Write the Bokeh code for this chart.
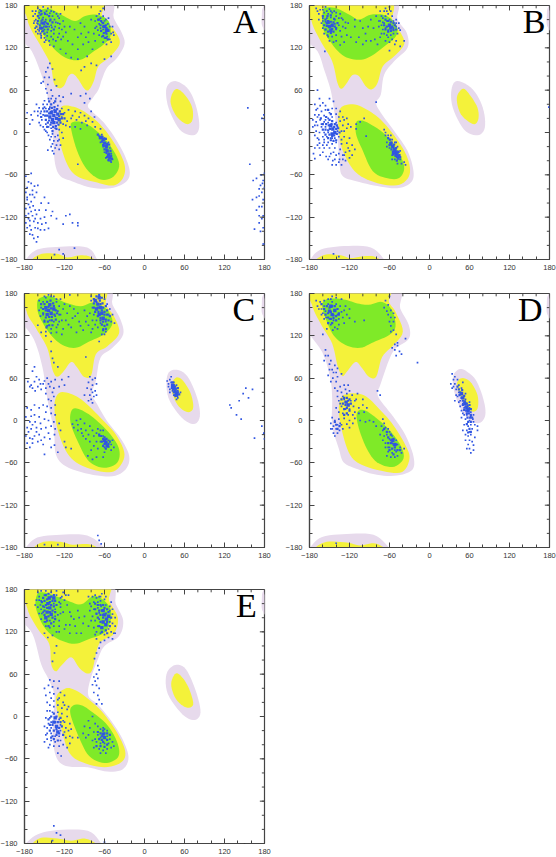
from bokeh.plotting import figure
from bokeh.layouts import column, row
from bokeh.models import FixedTicker, Label
from bokeh.embed import file_html
from bokeh.resources import INLINE

tick_vals = [-180, -120, -60, 0, 60, 120, 180]
minor_vals = list(range(-180, 181, 20))
panel_names = ["A", "B", "C", "D", "E"]

# allowed-region contours, degrees (phi, psi); 190 = runs off the frame
lilac_A = [(-190,190),(-190,141),(-169,115),(-154,80),(-146,54),(-141,25),(-137,-12),(-134,-45),(-126,-62),(-109,-69),(-81,-78),(-51,-79),(-29,-71),(-22,-57),(-29,-34),(-44,-8),(-61,14),(-79,30),(-85,38),(-79,47),(-69,61),(-64,75),(-56,92),(-41,106),(-30,125),(-34,141),(-46,162),(-59,190)]
yellow_up_A = [(-176,190),(-176,162),(-169,144),(-154,120),(-141,96),(-136,70),(-129,63),(-121,66),(-114,80),(-107,83),(-99,75),(-91,63),(-84,60),(-76,73),(-69,94),(-51,108),(-37,127),(-46,146),(-64,165),(-66,190)]
green_up_A = [(-160,172),(-159,153),(-149,135),(-134,117),(-116,105),(-96,103),(-76,115),(-61,125),(-51,137),(-54,158),(-71,167),(-89,165),(-104,158),(-121,165),(-141,175),(-156,174)]
yellow_lo_A = [(-124,37),(-129,21),(-127,-12),(-116,-45),(-101,-62),(-71,-71),(-46,-75),(-32,-64),(-30,-45),(-44,-17),(-66,11),(-91,30),(-109,37)]
green_lo_A = [(-109,14),(-109,0),(-99,-31),(-84,-55),(-64,-67),(-46,-62),(-38,-45),(-49,-22),(-69,0),(-91,14)]
lilac_lh_A = [(46,73),(33,63),(36,35),(53,4),(73,-4),(82,7),(78,35),(66,61)]
yellow_lh_A = [(46,61),(39,44),(48,23),(63,12),(72,18),(71,37),(58,56)]
lilac_bot_A = [(-182,-190),(-178,-180),(-161,-166),(-126,-162),(-86,-163),(-71,-180),(-68,-190)]
yellow_bot_A = [(-172,-190),(-169,-180),(-154,-172),(-131,-172),(-116,-177),(-96,-174),(-80,-177),(-71,-190)]

lilac_B = [(-190,190),(-190,139),(-168,115),(-158,89),(-148,59),(-143,30),(-138,-3),(-135,-45),(-130,-62),(-110,-69),(-78,-76),(-48,-79),(-28,-71),(-24,-55),(-33,-26),(-53,2),(-73,28),(-80,42),(-73,54),(-68,82),(-53,101),(-33,120),(-34,141),(-48,160),(-58,190)]
yellow_up_B = [(-177,190),(-177,158),(-163,129),(-146,101),(-138,70),(-132,62),(-124,70),(-116,81),(-106,80),(-96,66),(-87,61),(-78,70),(-70,94),(-53,108),(-38,125),(-43,141),(-56,158),(-63,190)]
green_up_B = [(-160,172),(-160,148),(-146,125),(-128,108),(-106,103),(-88,108),(-68,122),(-50,137),(-50,153),(-66,166),(-88,167),(-106,160),(-120,167),(-140,176),(-155,177)]
yellow_lo_B = [(-133,35),(-137,16),(-133,-17),(-120,-45),(-103,-62),(-73,-73),(-45,-74),(-30,-60),(-33,-36),(-50,-8),(-73,18),(-95,33),(-115,40)]
green_lo_B = [(-110,14),(-110,-3),(-100,-26),(-85,-55),(-63,-65),(-45,-64),(-38,-48),(-50,-22),(-70,0),(-93,14),(-104,17)]
lilac_lh_B = [(42,73),(33,61),(35,35),(52,4),(72,-4),(83,7),(80,35),(65,61)]
yellow_lh_B = [(50,62),(41,49),(47,26),(65,12),(73,18),(72,35),(60,54)]
lilac_bot_B = [(-182,-190),(-179,-180),(-163,-166),(-128,-161),(-88,-163),(-68,-180),(-65,-190)]
yellow_bot_B = [(-172,-190),(-170,-180),(-155,-173),(-133,-174),(-118,-178),(-95,-175),(-80,-177),(-70,-190)]

lilac_C = [(-190,190),(-190,150),(-166,115),(-153,75),(-146,32),(-136,-15),(-133,-48),(-118,-65),(-83,-76),(-48,-79),(-28,-69),(-23,-50),(-36,-25),(-56,-1),(-71,23),(-79,38),(-73,56),(-66,89),(-48,103),(-32,122),(-36,143),(-48,164),(-61,190)]
yellow_up_C = [(-177,190),(-177,155),(-163,131),(-146,103),(-138,72),(-131,62),(-121,70),(-110,83),(-101,75),(-91,62),(-80,64),(-73,94),(-56,105),(-38,124),(-46,148),(-58,164),(-66,190)]
green_up_C = [(-161,167),(-158,148),(-141,122),(-123,107),(-103,103),(-83,112),(-61,122),(-48,138),(-56,157),(-76,167),(-96,162),(-118,167),(-141,176),(-156,174)]
yellow_lo_C = [(-128,39),(-135,23),(-131,-10),(-118,-43),(-98,-62),(-61,-73),(-41,-69),(-30,-48),(-43,-20),(-66,4),(-91,27),(-111,38)]
green_lo_C = [(-108,16),(-111,-3),(-98,-34),(-83,-58),(-61,-67),(-41,-60),(-38,-41),(-51,-20),(-73,1),(-93,14)]
lilac_lh_C = [(46,72),(34,63),(36,32),(56,4),(74,-5),(83,6),(79,32),(64,63)]
yellow_lh_C = [(46,60),(40,46),(49,23),(64,12),(73,18),(69,39),(56,58)]
lilac_bot_C = [(-182,-190),(-178,-180),(-161,-166),(-126,-162),(-86,-163),(-61,-180),(-58,-190)]
yellow_bot_C = [(-169,-190),(-166,-180),(-151,-172),(-126,-172),(-108,-176),(-86,-175),(-71,-180),(-68,-190)]

lilac_D = [(-190,190),(-190,139),(-161,97),(-149,60),(-146,31),(-146,-7),(-136,-40),(-129,-59),(-111,-68),(-79,-77),(-49,-78),(-26,-70),(-24,-51),(-36,-21),(-54,5),(-74,29),(-78,40),(-74,50),(-61,85),(-51,102),(-31,116),(-31,135),(-44,159),(-54,190)]
yellow_up_D = [(-176,190),(-176,163),(-162,135),(-146,109),(-138,78),(-131,63),(-124,69),(-111,83),(-101,74),(-91,62),(-80,62),(-71,90),(-54,107),(-40,126),(-51,154),(-61,168),(-66,190)]
green_up_D = [(-161,163),(-156,145),(-144,121),(-126,107),(-104,103),(-84,111),(-61,121),(-51,133),(-56,156),(-71,168),(-91,164),(-108,166),(-126,171),(-144,173),(-156,171)]
yellow_lo_D = [(-129,36),(-136,17),(-131,-16),(-119,-49),(-101,-63),(-69,-72),(-41,-73),(-30,-54),(-36,-35),(-54,-7),(-74,15),(-99,36)]
green_lo_D = [(-109,10),(-106,-11),(-94,-40),(-79,-59),(-56,-66),(-40,-56),(-41,-40),(-56,-18),(-79,3),(-99,15)]
lilac_lh_D = [(46,73),(36,64),(37,41),(51,10),(71,-4),(83,5),(82,26),(71,55),(58,68)]
yellow_lh_D = [(48,60),(41,50),(51,26),(63,13),(72,17),(72,36),(61,55)]
lilac_bot_D = [(-182,-190),(-179,-180),(-161,-165),(-124,-161),(-84,-162),(-61,-180),(-58,-190)]
yellow_bot_D = [(-173,-190),(-171,-180),(-154,-172),(-124,-173),(-104,-177),(-84,-174),(-69,-180),(-66,-190)]

lilac_E = [(-190,190),(-190,145),(-168,117),(-155,74),(-143,51),(-135,27),(-138,-20),(-133,-56),(-118,-70),(-85,-72),(-56,-78),(-33,-75),(-24,-58),(-33,-32),(-50,-6),(-70,17),(-84,29),(-82,50),(-70,81),(-60,100),(-38,114),(-32,136),(-43,159),(-58,190)]
yellow_up_E = [(-176,190),(-176,154),(-160,124),(-143,103),(-140,74),(-133,64),(-125,72),(-110,84),(-98,69),(-86,61),(-78,67),(-68,103),(-46,117),(-40,140),(-53,164),(-60,190)]
green_up_E = [(-161,173),(-163,154),(-150,126),(-130,110),(-105,103),(-83,110),(-60,119),(-50,140),(-55,159),(-75,171),(-95,159),(-115,164),(-140,173),(-153,176)]
yellow_lo_E = [(-120,39),(-133,25),(-125,-16),(-113,-51),(-93,-65),(-60,-72),(-35,-65),(-29,-49),(-43,-20),(-65,8),(-90,29),(-108,39)]
green_lo_E = [(-108,15),(-111,3),(-98,-30),(-83,-56),(-60,-66),(-40,-58),(-40,-39),(-55,-13),(-78,6),(-95,16)]
lilac_lh_E = [(46,73),(33,60),(35,32),(57,3),(75,-5),(84,6),(77,36),(62,67)]
yellow_lh_E = [(47,61),(40,46),(47,25),(62,13),(73,17),(67,39),(57,55)]
lilac_bot_E = [(-182,-190),(-178,-180),(-160,-167),(-130,-161),(-85,-162),(-65,-180),(-62,-190)]
yellow_bot_E = [(-171,-190),(-168,-180),(-155,-172),(-130,-173),(-110,-176),(-90,-173),(-73,-180),(-70,-190)]

# sliver of allowed region at the top right corner (shared shape)
lilac_corner = [(190,190),(178,178),(176,165),(177,150),(190,138)]

core_A = [(-140,28),(-136,24),(-132,20),(-138,18),(-134,30),(-130,26),(-142,22),(-128,18),(-136,14),(-62,-10),(-60,-15),(-57,-20),(-56,-26),(-54,-32),(-65,-7),(-52,-36),(-152,155),(-156,148),(-60,150),(-57,145)]
dense_A = [(-146,30),(-143,33),(-139,35),(-135,36),(-131,33),(-127,30),(-125,26),(-124,20),(-126,14),(-129,11),(-133,9),(-137,8),(-141,11),(-145,14),(-148,18),(-149,24),(-146,24),(-143,27),(-139,30),(-135,32),(-143,17),(-140,14),(-131,14),(-128,23),(-150,30),(-152,34),(-122,26),(-120,20),(-132,5),(-138,2),(-140,40),(-134,44),(-143,44),(-155,22),(-146,8),(-70,-3),(-67,-8),(-63,-6),(-64,-13),(-58,-9),(-62,-18),(-59,-19),(-56,-16),(-53,-17),(-60,-24),(-57,-24),(-51,-26),(-57,-29),(-53,-30),(-50,-33),(-56,-35),(-49,-37),(-54,-39),(-51,-40),(-160,165),(-156,167),(-153,160),(-160,158),(-157,152),(-153,148),(-149,157),(-145,154),(-148,150),(-152,144),(-156,140),(-150,140),(-145,146),(-141,160),(-138,156),(-136,146),(-162,150),(-143,165),(-155,172),(-149,168),(-68,160),(-65,158),(-62,155),(-58,152),(-66,152),(-62,150),(-57,148),(-65,144),(-61,141),(-57,140),(-54,144),(-62,137),(-58,134),(-55,132)]
pts_A = [(-168,172),(-160,176),(-152,178),(-145,176),(-140,172),(-164,168),(-158,170),(-150,170),(-146,167),(-138,165),(-132,168),(-128,162),(-163,160),(-158,162),(-152,163),(-148,160),(-142,158),(-135,160),(-130,155),(-122,158),(-166,155),(-160,154),(-155,158),(-150,153),(-146,150),(-140,152),(-134,150),(-128,148),(-120,150),(-164,148),(-160,146),(-154,143),(-150,146),(-146,142),(-140,144),(-136,140),(-128,140),(-118,142),(-160,140),(-155,137),(-150,134),(-146,137),(-140,136),(-133,130),(-125,132),(-150,128),(-142,124),(-136,122),(-126,118),(-118,112),(-110,106),(-100,104),(-112,150),(-105,146),(-96,155),(-100,135),(-90,150),(-92,125),(-84,142),(-80,160),(-84,128),(-78,118),(-86,108),(-80,98),(-72,95),(-90,93),(-95,88),(-72,165),(-68,168),(-66,172),(-62,176),(-74,158),(-70,160),(-66,162),(-62,165),(-58,160),(-54,162),(-72,150),(-68,154),(-64,156),(-60,158),(-55,154),(-52,150),(-70,145),(-66,148),(-62,146),(-58,142),(-54,146),(-50,140),(-46,138),(-68,138),(-64,136),(-60,134),(-56,136),(-52,132),(-62,128),(-57,125),(-50,108),(-60,104),(-142,98),(-138,90),(-148,86),(-143,78),(-152,72),(-145,68),(-135,75),(-140,60),(-148,62),(-155,70),(-132,66),(-138,52),(-144,48),(-150,45),(-128,52),(-122,50),(-110,55),(-96,52),(-88,55),(-82,48),(-90,42),(-80,30),(-75,22),(-162,40),(-158,35),(-165,30),(-170,25),(-168,18),(-172,12),(-176,28),(-155,30),(-160,24),(-152,25),(-154,18),(-158,14),(-150,36),(-146,40),(-142,36),(-136,42),(-130,38),(-124,34),(-120,28),(-114,32),(-104,30),(-96,28),(-90,24),(-84,20),(-78,15),(-110,20),(-102,18),(-94,14),(-86,10),(-74,8),(-66,5),(-124,22),(-122,12),(-118,10),(-112,8),(-104,8),(-96,5),(-148,12),(-144,8),(-150,4),(-140,6),(-134,6),(-128,4),(-146,0),(-138,-2),(-130,-4),(-124,0),(-142,-10),(-136,-12),(-130,-12),(-140,-20),(-134,-22),(-128,-24),(-136,-30),(-145,-25),(-68,-5),(-64,-3),(-60,-8),(-66,-14),(-54,-14),(-62,-20),(-52,-22),(-60,-28),(-50,-30),(-58,-36),(-54,-40),(-48,-38),(-50,-42),(-100,-45),(-178,-62),(-170,-58),(-176,-78),(-170,-72),(-165,-76),(-160,-75),(-178,-85),(-172,-88),(-168,-82),(-162,-85),(-176,-95),(-170,-98),(-165,-92),(-150,-92),(-144,-100),(-178,-108),(-172,-106),(-167,-104),(-158,-110),(-148,-110),(-138,-112),(-178,-118),(-174,-115),(-168,-118),(-162,-116),(-150,-120),(-140,-118),(-118,-118),(-112,-116),(-178,-128),(-172,-125),(-166,-126),(-160,-128),(-132,-122),(-122,-130),(-108,-128),(-100,-128),(-100,-132),(-176,-135),(-170,-138),(-164,-135),(-156,-138),(-150,-138),(-144,-136),(-168,-145),(-160,-148),(-162,-155),(-128,-166),(-105,-164),(-135,-173),(-122,-172),(155,35),(179,25),(176,20),(180,18),(158,-45),(180,-58),(175,-60),(168,-65),(178,-68),(163,-68),(174,-75),(180,-78),(176,-85),(172,-90),(178,-95),(162,-95),(172,-105),(178,-118),(176,-122),(168,-110),(165,-137),(174,-140),(178,-158),(180,-158)]
extra_A = [(-167,165),(-163,172),(-157,174),(-154,168),(-147,172),(-142,169),(-136,171),(-130,165),(-126,168),(-165,158),(-161,155),(-155,155),(-151,150),(-147,155),(-143,150),(-139,149),(-133,156),(-127,154),(-124,146),(-163,143),(-158,144),(-155,134),(-148,131),(-143,130),(-137,132),(-130,135),(-122,136),(-115,130),(-108,125),(-100,118),(-95,140),(-88,135),(-76,140),(-74,130),(-70,160),(-74,148),(-48,150),(-47,142),(-50,128),(-145,92),(-150,78),(-146,56),(-140,48),(-133,48),(-126,44),(-160,30),(-156,27),(-152,40),(-148,34),(-156,10),(-152,8),(-148,2),(-144,-4),(-140,-6),(-134,-6),(-128,-10),(-122,-8),(-138,-16),(-132,-18),(-138,-26),(-126,-18),(-116,16),(-108,24),(-98,22),(-88,16),(-174,-70),(-168,-88),(-174,-102),(-170,-112),(-164,-110),(-174,-122),(-164,-122),(-156,-122),(-172,-132),(-160,-136),(-154,-130),(-172,-144),(-166,-150),(-176,-92),(-155,-100),(-148,-128),(177,-72),(172,-80),(168,-92),(176,-105),(172,-118),(178,-135),(172,-128)]
core_B = [(-152,156),(-150,150),(-146,152),(-148,145),(-55,-20),(-52,-25),(-50,-30),(-48,-34),(-58,-16),(-54,-28),(-145,5),(-142,0),(-148,10),(-146,-2),(-60,152),(-58,148)]
dense_B = [(-160,165),(-156,160),(-152,158),(-148,157),(-144,156),(-158,152),(-154,151),(-146,147),(-142,150),(-156,146),(-152,143),(-148,141),(-144,143),(-140,148),(-154,155),(-143,161),(-148,166),(-153,165),(-138,155),(-66,160),(-62,158),(-58,157),(-54,155),(-68,152),(-64,150),(-56,150),(-52,152),(-66,146),(-62,143),(-58,144),(-54,145),(-50,146),(-62,-8),(-59,-10),(-57,-14),(-60,-18),(-56,-19),(-53,-17),(-57,-24),(-53,-23),(-50,-22),(-54,-31),(-50,-27),(-47,-27),(-51,-33),(-48,-30),(-45,-32),(-47,-37),(-44,-35),(-49,-40),(-155,22),(-150,18),(-146,16),(-142,12),(-155,12),(-151,10),(-147,12),(-143,8),(-139,10),(-156,4),(-152,3),(-149,5),(-140,5),(-137,6),(-150,-3),(-146,-5),(-143,-4),(-139,-2),(-135,0),(-148,-11),(-144,-12),(-140,-11),(-152,-8),(-156,-3),(-160,4),(-160,12),(-163,20),(-148,26),(-152,32)]
pts_B = [(-170,176),(-164,174),(-156,178),(-150,175),(-143,172),(-166,168),(-158,170),(-152,168),(-146,170),(-140,165),(-134,168),(-160,162),(-154,162),(-148,163),(-142,160),(-136,162),(-130,160),(-162,155),(-156,157),(-142,154),(-136,152),(-130,150),(-160,148),(-156,146),(-140,146),(-134,144),(-126,148),(-158,140),(-153,138),(-146,136),(-140,138),(-132,136),(-124,138),(-150,130),(-144,128),(-157,115),(-122,155),(-112,160),(-112,150),(-104,158),(-100,148),(-106,135),(-96,140),(-92,150),(-88,160),(-84,148),(-82,132),(-78,125),(-88,130),(-72,165),(-68,172),(-66,176),(-60,178),(-74,158),(-70,162),(-66,165),(-62,168),(-56,165),(-76,150),(-72,152),(-68,155),(-64,158),(-60,160),(-54,158),(-50,155),(-70,146),(-66,148),(-62,145),(-54,148),(-50,150),(-46,148),(-68,140),(-64,138),(-58,138),(-54,140),(-48,140),(-74,135),(-66,130),(-60,128),(-52,125),(-44,122),(-60,116),(-80,43),(-168,60),(-165,48),(-172,40),(-160,42),(-150,48),(-168,34),(-162,30),(-156,32),(-150,28),(-146,34),(-172,25),(-166,25),(-158,24),(-152,20),(-146,22),(-140,26),(-134,30),(-175,18),(-170,15),(-164,18),(-158,15),(-152,14),(-140,14),(-134,16),(-128,18),(-175,8),(-168,10),(-162,8),(-156,8),(-150,6),(-138,8),(-130,10),(-122,12),(-170,2),(-165,0),(-158,0),(-152,0),(-138,2),(-132,2),(-118,8),(-110,5),(-168,-8),(-160,-6),(-154,-6),(-148,-8),(-142,-8),(-136,-6),(-128,-6),(-165,-15),(-158,-14),(-152,-14),(-146,-16),(-140,-14),(-132,-16),(-124,-15),(-116,-18),(-172,-22),(-165,-22),(-158,-22),(-150,-22),(-142,-22),(-134,-24),(-122,-22),(-112,-24),(-174,-30),(-160,-28),(-155,-34),(-148,-30),(-140,-32),(-130,-32),(-120,-26),(-172,-37),(-152,-38),(-145,-40),(-135,-38),(-126,-40),(-140,-46),(-132,-46),(-130,-38),(-98,20),(-104,15),(-110,12),(-95,-5),(-68,4),(-66,0),(-62,-4),(-60,-10),(-64,-14),(-56,-10),(-52,-14),(-60,-22),(-48,-20),(-56,-32),(-46,-28),(-52,-38),(-44,-38),(-42,-44),(-38,-42),(-36,-46),(179,36),(-144,-172),(-136,-176)]
extra_B = [(-168,172),(-160,174),(-154,172),(-148,172),(-140,170),(-132,162),(-126,156),(-160,158),(-166,160),(-152,136),(-140,130),(-134,124),(-128,128),(-118,135),(-110,128),(-100,125),(-95,130),(-76,158),(-80,165),(-74,172),(-64,172),(-58,172),(-70,156),(-50,160),(-46,155),(-44,145),(-72,140),(-62,135),(-56,132),(-50,130),(-38,130),(-170,32),(-164,38),(-156,38),(-144,44),(-140,34),(-136,22),(-130,22),(-124,20),(-172,10),(-168,22),(-162,12),(-156,18),(-128,2),(-124,6),(-172,-4),(-166,-10),(-158,-10),(-146,-8),(-132,-10),(-120,-8),(-168,-18),(-160,-18),(-154,-18),(-144,-28),(-136,-30),(-126,-28),(-164,-32),(-150,-34),(-142,-38),(-128,-32),(-120,-36),(-116,-32),(-146,-46),(-136,-42),(-66,-4),(-58,-4),(-64,-20),(-50,-14),(-44,-26),(-56,-38),(-48,-44)]
core_C = [(-148,160),(-144,156),(-140,152),(-146,150),(-142,164),(-136,158),(-74,170),(-70,165),(-66,160),(-72,158),(-64,152),(-68,150),(-62,145),(-68,174),(44,46),(46,42),(48,38),(42,50),(-58,-32),(-56,-36),(-60,-28)]
dense_C = [(-155,165),(-150,165),(-146,168),(-141,170),(-137,166),(-152,158),(-148,156),(-144,161),(-140,159),(-136,162),(-133,156),(-152,152),(-148,146),(-143,147),(-139,147),(-135,150),(-131,152),(-150,140),(-145,140),(-139,142),(-147,132),(-143,135),(-138,135),(-133,143),(-76,172),(-72,176),(-68,178),(-64,174),(-76,166),(-72,168),(-67,170),(-63,166),(-76,160),(-70,160),(-66,165),(-62,160),(-58,162),(-74,154),(-69,154),(-64,156),(-60,154),(-56,156),(-70,148),(-66,145),(-60,150),(-56,150),(-52,148),(-66,142),(-62,140),(-58,143),(-54,142),(-64,136),(-60,134),(-56,136),(-62,128),(-58,130),(42,54),(44,50),(46,48),(41,46),(43,44),(47,45),(50,46),(44,40),(47,40),(50,40),(46,36),(49,35),(52,37),(-68,-20),(-65,-22),(-62,-26),(-60,-24),(-57,-26),(-64,-30),(-60,-33),(-57,-30),(-54,-33),(-62,-36),(-58,-40),(-54,-37),(-52,-30)]
pts_C = [(-150,176),(-144,178),(-136,176),(-126,172),(-112,178),(-152,168),(-132,168),(-128,162),(-120,165),(-155,160),(-130,155),(-122,158),(-112,162),(-152,150),(-134,148),(-126,150),(-116,152),(-106,158),(-100,152),(-90,156),(-150,142),(-142,142),(-136,140),(-128,140),(-118,142),(-108,145),(-98,140),(-86,148),(-146,134),(-140,130),(-132,132),(-122,130),(-110,132),(-102,125),(-92,128),(-160,135),(-155,125),(-148,120),(-140,112),(-84,135),(-80,125),(-78,160),(-76,150),(-78,142),(-72,142),(-66,138),(-58,140),(-54,150),(-70,132),(-62,130),(-58,126),(-64,122),(-45,138),(-68,112),(-88,90),(-140,98),(-138,88),(-136,82),(-130,76),(-165,76),(-168,70),(-162,62),(-175,55),(-170,50),(-165,55),(-158,58),(-152,52),(-146,60),(-140,55),(-134,58),(-124,58),(-114,62),(-168,46),(-160,48),(-155,44),(-148,46),(-142,48),(-136,46),(-128,48),(-120,50),(-82,62),(-78,58),(-74,60),(-84,54),(-78,50),(-72,52),(-86,46),(-80,44),(-74,42),(-82,36),(-76,34),(-90,36),(-84,28),(-78,25),(-176,18),(-170,15),(-165,22),(-158,18),(-152,22),(-146,20),(-140,18),(-134,22),(-148,12),(-140,10),(-134,8),(-165,8),(-178,5),(-172,-2),(-164,-2),(-158,5),(-150,2),(-144,0),(-136,-2),(-128,-4),(-176,-10),(-170,-12),(-162,-10),(-155,-12),(-148,-10),(-140,-8),(-134,-12),(-126,-14),(-178,-22),(-172,-25),(-165,-22),(-158,-20),(-150,-24),(-142,-26),(-135,-20),(-176,-32),(-168,-32),(-160,-30),(-152,-34),(-135,-35),(-172,-38),(-150,-48),(-130,-45),(-120,-30),(-118,-38),(-110,-40),(-108,-5),(-102,0),(-106,-10),(-100,-6),(-96,2),(-95,-12),(-90,-4),(-88,-14),(-84,-20),(-92,-22),(-82,-8),(-78,-14),(-76,-22),(-72,-18),(-68,-22),(-66,-30),(-72,-30),(-62,-22),(-60,-38),(-54,-28),(-50,-34),(-50,-42),(-60,-45),(-70,-40),(-80,-42),(-72,-52),(-78,-55),(-85,-50),(-62,-52),(34,56),(38,58),(40,62),(36,52),(40,54),(44,54),(48,50),(38,44),(42,42),(50,42),(46,34),(50,32),(130,18),(128,22),(142,28),(138,8),(145,2),(148,38),(152,46),(156,32),(162,44),(165,-25),(176,-8),(179,-18),(180,-26),(-70,-163),(-68,-170),(-65,-175),(-130,-176),(-150,-176)]
extra_C = [(-158,170),(-148,174),(-140,176),(-132,172),(-158,156),(-156,148),(-128,150),(-124,142),(-130,136),(-148,126),(-140,124),(-132,125),(-124,122),(-114,136),(-104,148),(-96,134),(-88,140),(-82,152),(-80,170),(-80,176),(-60,172),(-56,165),(-52,158),(-48,150),(-50,140),(-60,122),(-74,136),(-78,130),(-172,48),(-164,42),(-156,52),(-150,56),(-144,52),(-138,40),(-148,38),(-144,30),(-140,28),(-136,34),(-78,40),(-72,36),(-80,30),(-170,6),(-168,-6),(-156,-4),(-174,-16),(-162,-16),(-144,-18),(-168,-26),(-155,-28),(-140,-38),(-100,-14),(-94,-18),(-88,-26),(-82,-30),(-76,-36),(-70,-12),(-66,-14),(-62,-14),(-48,-28),(-46,-38),(36,48),(38,40),(54,40),(48,30),(44,36)]
core_D = [(-150,155),(-146,150),(-142,156),(-148,162),(50,32),(53,24),(56,18),(58,14),(48,38),(-55,-28),(-52,-34),(-125,26),(-122,22)]
dense_D = [(-162,165),(-158,158),(-154,162),(-150,160),(-146,162),(-142,162),(-138,158),(-156,150),(-152,152),(-148,154),(-144,149),(-140,148),(-136,152),(-152,146),(-148,144),(-144,145),(-140,142),(-136,150),(-152,138),(-146,138),(42,48),(44,44),(46,40),(49,43),(45,36),(48,32),(52,35),(50,28),(53,27),(56,24),(50,22),(54,20),(57,21),(60,22),(52,15),(55,14),(59,16),(62,16),(56,10),(59,10),(62,8),(57,4),(61,4),(64,4),(58,-2),(62,-2),(56,-5),(60,-12),(58,-17),(62,-16),(-132,30),(-128,32),(-124,32),(-120,30),(-130,24),(-126,22),(-122,28),(-118,24),(-128,16),(-124,18),(-120,14),(-128,8),(-124,10),(-140,-6),(-135,-8),(-138,-12),(-142,-2),(-68,-12),(-64,-16),(-62,-24),(-58,-20),(-58,-28),(-54,-26),(-62,-32),(-58,-32),(-54,-34),(-50,-34),(-60,-42),(-56,-40),(-52,-38),(-48,-42),(-44,-42),(-54,-48)]
pts_D = [(-168,162),(-164,168),(-158,170),(-152,172),(-146,176),(-140,174),(-162,158),(-158,162),(-152,165),(-146,168),(-140,165),(-134,162),(-160,152),(-156,155),(-138,150),(-132,154),(-128,156),(-155,146),(-150,144),(-144,142),(-136,144),(-130,146),(-148,136),(-142,132),(-136,136),(-120,145),(-112,140),(-98,142),(-66,170),(-60,176),(-68,160),(-62,164),(-58,156),(-62,150),(-58,146),(-54,140),(-58,134),(-54,128),(-50,122),(-36,116),(-52,108),(-48,106),(-56,103),(-52,100),(-48,110),(-45,98),(-42,94),(-50,92),(-18,82),(-160,122),(-156,100),(-152,92),(-158,85),(-148,85),(-142,78),(-150,72),(-144,68),(-138,74),(-152,64),(-145,60),(-138,62),(-132,66),(-140,55),(-134,48),(-128,50),(-122,50),(-138,42),(-132,40),(-130,34),(-124,38),(-116,36),(-108,38),(-78,42),(-74,36),(-136,28),(-128,30),(-118,28),(-110,30),(-100,30),(-132,20),(-126,16),(-120,16),(-114,20),(-106,18),(-98,12),(-140,18),(-130,10),(-122,8),(-115,8),(-106,10),(-146,4),(-142,0),(-136,2),(-128,3),(-120,0),(-112,3),(-104,0),(-148,-4),(-144,-8),(-138,-6),(-132,-6),(-124,-5),(-115,-4),(-140,-12),(-135,-14),(-130,-12),(-120,-10),(-144,-18),(-138,-18),(-96,-2),(-90,0),(-84,-2),(-80,-8),(-70,2),(-68,-4),(-66,-10),(-62,-12),(-60,-16),(-64,-20),(-68,-22),(-56,-22),(-60,-26),(-66,-32),(-56,-32),(-50,-28),(-48,-34),(-60,-38),(-62,-44),(-52,-42),(-44,-38),(-38,-40),(-56,-46),(-48,-50),(-52,-52),(34,66),(38,62),(36,58),(42,58),(32,52),(38,52),(44,50),(50,54),(40,44),(44,40),(48,46),(54,38),(42,34),(46,28),(50,24),(54,30),(60,26),(46,20),(52,18),(60,18),(62,12),(50,10),(56,8),(62,6),(66,8),(54,2),(60,0),(65,2),(52,-6),(58,-8),(62,-6),(56,-14),(60,-16),(64,-12),(72,-8),(72,-14),(54,-20),(58,-22),(62,-20),(60,-28),(64,-30),(58,-34),(66,-35),(60,-40),(62,-46),(-140,-174)]
extra_D = [(-170,170),(-166,158),(-162,150),(-158,144),(-154,130),(-145,128),(-138,130),(-128,138),(-124,150),(-126,162),(-120,158),(-132,172),(-148,172),(-64,155),(-60,140),(-54,152),(-52,146),(-58,126),(-156,92),(-150,80),(-146,72),(-140,68),(-148,55),(-142,46),(-126,44),(-120,42),(-112,28),(-138,34),(-134,24),(-126,26),(-112,12),(-100,22),(-94,18),(-136,12),(-146,-12),(-148,-12),(-142,-22),(-134,-4),(-72,-8),(-70,-14),(-74,-20),(-70,-28),(-66,-38),(-62,-38),(-50,-44),(-42,-46),(-58,-52),(-64,-50),(36,48),(34,46),(40,36),(38,28),(44,26),(48,14),(52,8),(48,4),(66,-2),(68,-6),(50,-14),(54,-28),(68,-24),(56,-40),(66,-42)]
core_E = [(-145,160),(-142,154),(-146,148),(-140,145),(-148,140),(-136,168),(-143,168),(-62,150),(-60,144),(-57,138),(-62,134),(-58,130),(-64,126),(-54,142),(-136,-8),(-132,-14),(-134,-2),(-130,-22),(-60,-30),(-62,-25)]
dense_E = [(-152,168),(-148,172),(-144,174),(-140,170),(-136,172),(-154,162),(-150,164),(-146,166),(-142,162),(-138,164),(-134,164),(-152,156),(-148,158),(-144,160),(-140,158),(-136,156),(-132,158),(-150,150),(-146,154),(-142,148),(-138,150),(-134,148),(-150,144),(-144,142),(-138,140),(-134,138),(-146,136),(-140,132),(-144,128),(-74,160),(-70,158),(-66,158),(-62,158),(-74,152),(-68,150),(-64,150),(-60,154),(-56,152),(-72,146),(-66,144),(-62,144),(-58,146),(-54,148),(-50,140),(-70,140),(-66,134),(-62,140),(-56,134),(-52,128),(-68,128),(-64,120),(-58,122),(-56,118),(-144,-4),(-140,0),(-136,4),(-132,0),(-126,-2),(-142,-12),(-138,-12),(-134,-8),(-130,-8),(-126,-8),(-142,-20),(-136,-20),(-132,-18),(-128,-16),(-124,-14),(-138,-28),(-132,-26),(-128,-24),(-122,-26),(-136,-32),(-130,-34),(-140,-30),(-70,-22),(-66,-24),(-62,-20),(-60,-24),(-56,-24),(-68,-32),(-64,-33),(-62,-36),(-56,-33),(-52,-26),(-66,-42),(-60,-43),(-56,-40),(-72,-42),(-64,-28)]
pts_E = [(-155,178),(-148,178),(-140,176),(-132,178),(-122,176),(-158,170),(-150,172),(-132,172),(-124,170),(-114,172),(-162,165),(-155,164),(-136,160),(-128,162),(-120,165),(-160,155),(-155,152),(-150,155),(-134,152),(-126,155),(-116,158),(-158,146),(-152,148),(-134,142),(-126,146),(-112,148),(-155,138),(-150,134),(-142,136),(-136,134),(-128,136),(-106,138),(-98,140),(-148,128),(-142,126),(-136,128),(-128,128),(-118,130),(-104,128),(-92,132),(-150,118),(-145,112),(-138,115),(-132,120),(-112,118),(-95,118),(-132,100),(-135,90),(-138,78),(-78,170),(-74,172),(-68,170),(-64,174),(-82,160),(-76,162),(-70,162),(-66,164),(-60,166),(-82,150),(-76,152),(-70,154),(-65,156),(-58,158),(-52,156),(-78,142),(-72,145),(-68,147),(-52,150),(-48,145),(-74,136),(-68,138),(-52,134),(-48,132),(-44,128),(-70,128),(-54,124),(-50,120),(-72,120),(-66,118),(-60,116),(-54,112),(-46,118),(-72,110),(-66,105),(-68,97),(-72,90),(-75,82),(-70,72),(-68,66),(-72,60),(-76,56),(-70,54),(-74,50),(-78,45),(-72,44),(-68,40),(-76,34),(-70,30),(-68,24),(-72,18),(-64,18),(-142,52),(-136,50),(-128,50),(-144,44),(-138,42),(-130,40),(-142,34),(-136,32),(-126,34),(-120,30),(-140,26),(-136,22),(-130,24),(-122,20),(-142,16),(-136,14),(-130,16),(-124,12),(-116,10),(-142,8),(-138,6),(-130,6),(-124,4),(-116,0),(-142,-2),(-128,-4),(-122,-6),(-112,-10),(-144,-10),(-140,-8),(-126,-12),(-118,-16),(-110,-18),(-146,-16),(-140,-16),(-126,-20),(-120,-22),(-112,-28),(-146,-24),(-140,-24),(-134,-28),(-128,-28),(-118,-30),(-146,-32),(-140,-34),(-134,-36),(-126,-34),(-112,-38),(-142,-40),(-136,-42),(-128,-42),(-130,-52),(-125,-56),(-90,-14),(-84,-6),(-78,0),(-74,-10),(-70,-14),(-66,-18),(-62,-16),(-56,-20),(-92,-24),(-84,-26),(-76,-22),(-70,-26),(-66,-30),(-56,-28),(-52,-32),(-78,-34),(-72,-36),(-66,-38),(-60,-38),(-54,-38),(-48,-36),(-68,-46),(-62,-48),(-56,-46),(-136,-155),(-132,-165),(-126,-168),(-138,-176),(-60,-178)]
extra_E = [(-160,176),(-158,165),(-164,158),(-156,158),(-154,146),(-148,134),(-126,168),(-118,172),(-126,160),(-122,148),(-130,144),(-128,120),(-120,124),(-112,130),(-110,142),(-100,150),(-102,118),(-90,142),(-84,128),(-84,170),(-72,168),(-66,170),(-58,170),(-50,162),(-48,152),(-44,140),(-80,156),(-80,136),(-76,126),(-74,116),(-60,108),(-48,110),(-44,118),(-150,40),(-148,30),(-146,20),(-146,8),(-128,26),(-120,16),(-114,14),(-148,-2),(-150,-14),(-148,-26),(-150,-36),(-144,-44),(-122,-40),(-116,-44),(-120,-8),(-114,-20),(-108,-30),(-100,-30),(-88,-30),(-82,-16),(-76,-44),(-66,-52),(-58,-52),(-50,-44),(-46,-42),(-74,-32),(-60,-18)]


def smooth(points, steps=6):
    """Closed Catmull-Rom curve through the hand-read outline, for drawing."""
    n = len(points)
    out = []
    for i in range(n):
        p0, p1, p2, p3 = points[i - 1], points[i], points[(i + 1) % n], points[(i + 2) % n]
        for k in range(steps):
            t = k / steps
            out.append(tuple(
                0.5 * (2 * p1[d] + (p2[d] - p0[d]) * t
                       + (2 * p0[d] - 5 * p1[d] + 4 * p2[d] - p3[d]) * t * t
                       + (3 * p1[d] - p0[d] - 3 * p2[d] + p3[d]) * t * t * t)
                for d in (0, 1)))
    return out


LILAC, YELLOW, GREEN, BLUE, FRAME = "#E7DAEC", "#F4F23A", "#7FEA28", "#3156E2", "#444444"


def patch(p, outline, colour):
    pts = smooth(outline)
    p.patch([a for a, _ in pts], [b for _, b in pts], fill_color=colour, line_color=None)


def style(ax):
    ax.ticker = FixedTicker(ticks=tick_vals, minor_ticks=minor_vals)
    ax.major_tick_in, ax.major_tick_out = 5, 0
    ax.minor_tick_in, ax.minor_tick_out = 3, 0
    ax.axis_line_color = ax.major_tick_line_color = ax.minor_tick_line_color = FRAME
    ax.axis_line_width = 1.2
    ax.major_label_standoff = 7
    ax.major_label_text_font = "Liberation Sans"
    ax.major_label_text_font_size = "7.5px"
    ax.major_label_text_color = "#333333"


def panel(name, shapes, pts, dense, core, right, top, bottom, letter_x, phi_y=-192):
    left = 28
    p = figure(width=left + 240 + right, height=top + 254 + bottom,
               x_range=(-180, 180), y_range=(-180, 180),
               output_backend="svg", toolbar_location=None,
               min_border_left=left, min_border_right=right,
               min_border_top=top, min_border_bottom=bottom,
               outline_line_color=FRAME, outline_line_width=1.2,
               background_fill_color="white")
    p.xgrid.visible = False
    p.ygrid.visible = False
    style(p.xaxis[0])
    p.xaxis[0].major_label_standoff = 5
    style(p.yaxis[0])
    lilac, yu, gu, yl, gl, llh, ylh, lb, yb = shapes
    patch(p, lilac, LILAC)
    patch(p, llh, LILAC)
    patch(p, lb, LILAC)
    patch(p, lilac_corner, LILAC)
    patch(p, yu, YELLOW)
    patch(p, yl, YELLOW)
    patch(p, ylh, YELLOW)
    patch(p, yb, YELLOW)
    patch(p, gu, GREEN)
    patch(p, gl, GREEN)
    for group, size in ((core, 3.4), (dense, 2.2), (pts, 1.7)):
        p.scatter([a for a, _ in group], [b for _, b in group], size=size, marker="square",
                  fill_color=BLUE, line_color=None)
    # ticks of the right and top sides
    for vals, length in ((tick_vals, 7), (minor_vals, 4)):
        n = len(vals)
        p.segment(x0=[180] * n, x1=[180 - length] * n, y0=vals, y1=vals, line_color=FRAME, line_width=1)
        p.segment(x0=vals, x1=vals, y0=[180] * n, y1=[180 - length] * n, line_color=FRAME, line_width=1)
    p.add_layout(Label(x=letter_x, y=157, text=name, text_font="Liberation Serif",
                       text_font_size="34px", text_align="center", text_baseline="middle",
                       text_color="black"))
    p.add_layout(Label(x=-197, y=146, text="ψ", text_font="Liberation Serif",
                       text_font_size="16px", text_align="center", text_baseline="middle",
                       text_color="#222222"))
    p.add_layout(Label(x=150, y=phi_y, text="ϕ", text_font="Liberation Serif",
                       text_font_size="16px", text_align="center", text_baseline="middle",
                       text_color="#222222"))
    return p


shape_A = (lilac_A, yellow_up_A, green_up_A, yellow_lo_A, green_lo_A, lilac_lh_A, yellow_lh_A, lilac_bot_A, yellow_bot_A)
shape_B = (lilac_B, yellow_up_B, green_up_B, yellow_lo_B, green_lo_B, lilac_lh_B, yellow_lh_B, lilac_bot_B, yellow_bot_B)
shape_C = (lilac_C, yellow_up_C, green_up_C, yellow_lo_C, green_lo_C, lilac_lh_C, yellow_lh_C, lilac_bot_C, yellow_bot_C)
shape_D = (lilac_D, yellow_up_D, green_up_D, yellow_lo_D, green_lo_D, lilac_lh_D, yellow_lh_D, lilac_bot_D, yellow_bot_D)
shape_E = (lilac_E, yellow_up_E, green_up_E, yellow_lo_E, green_lo_E, lilac_lh_E, yellow_lh_E, lilac_bot_E, yellow_bot_E)

pA = panel("A", shape_A, pts_A + extra_A, dense_A, core_A, 17, 9, 30, 151)
pB = panel("B", shape_B, pts_B + extra_B, dense_B, core_B, 7, 9, 30, 157)
pC = panel("C", shape_C, pts_C + extra_C, dense_C, core_C, 17, 4, 31, 149)
pD = panel("D", shape_D, pts_D + extra_D, dense_D, core_D, 7, 4, 31, 151)
pE = panel("E", shape_E, pts_E + extra_E, dense_E, core_E, 17, 11, 14, 153, phi_y=-188)

page = column(row(pA, pB, spacing=0), row(pC, pD, spacing=0), row(pE, spacing=0),
              spacing=0, margin=(-4, 0, 0, -4))

open("out.html", "w").write(file_html(page, INLINE))
